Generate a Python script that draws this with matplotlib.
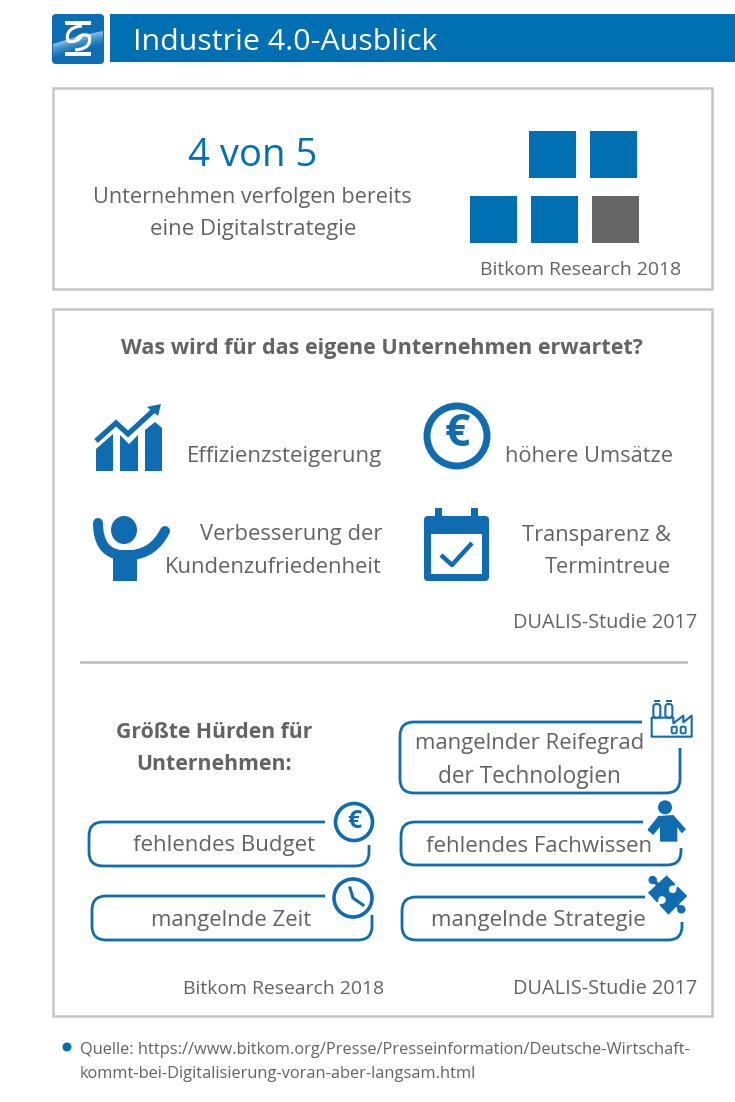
import matplotlib
matplotlib.use("Agg")
import matplotlib.pyplot as plt
from matplotlib.patches import Rectangle, FancyBboxPatch, Circle, Polygon, PathPatch, Ellipse
from matplotlib.path import Path

W, H = 735, 1102
BLUE = "#0170b3"
ICON = "#0f6cb0"
GREY = "#636363"
FRAME = "#c6c6c6"
FONT = "Open Sans"

title = "Industrie 4.0-Ausblick"
headline = "4 von 5"
sub_lines = ["Unternehmen verfolgen bereits", "eine Digitalstrategie"]
square_states = [1, 1, 1, 1, 0]
source_a = "Bitkom Research 2018"
source_b = "DUALIS-Studie 2017"
question = "Was wird für das eigene Unternehmen erwartet?"
hurdles_head = ["Größte Hürden für", "Unternehmen:"]
footer = ["Quelle: https://www.bitkom.org/Presse/Presseinformation/Deutsche-Wirtschaft-",
          "kommt-bei-Digitalisierung-voran-aber-langsam.html"]

fig = plt.figure(figsize=(W / 100, H / 100), dpi=100, facecolor="white")
ax = fig.add_axes([0, 0, 1, 1])
ax.set_xlim(0, W)
ax.set_ylim(H, 0)
ax.axis("off")
rend = fig.canvas.get_renderer()


def fit(s, x0, x1, y, color=GREY, weight="normal"):
    t = ax.text(x0, y - 1, s, family=FONT, color=color, fontweight=weight,
                ha="left", va="center_baseline", fontsize=14, zorder=6)
    w = t.get_window_extent(rend).width
    t.set_fontsize(14 * (x1 - x0) / w)
    return t


def open_box(x0, y0, x1, y1, gapx, gapy, r=14, lw=2.0):
    verts = [(gapx, y0), (x0 + r, y0), (x0, y0), (x0, y0 + r), (x0, y1 - r), (x0, y1), (x0 + r, y1),
             (x1 - r, y1), (x1, y1), (x1, y1 - r), (x1, gapy)]
    codes = [Path.MOVETO, Path.LINETO, Path.CURVE3, Path.CURVE3, Path.LINETO, Path.CURVE3, Path.CURVE3,
             Path.LINETO, Path.CURVE3, Path.CURVE3, Path.LINETO]
    ax.add_patch(PathPatch(Path(verts, codes), fc="none", ec=ICON, lw=lw, capstyle="butt"))


def rrect(x0, y0, x1, y1, r, **kw):
    ax.add_patch(FancyBboxPatch((x0 + r, y0 + r), x1 - x0 - 2 * r, y1 - y0 - 2 * r,
                                boxstyle=f"round,pad={r},rounding_size={r}", **kw))


# header -------------------------------------------------------------
rrect(52, 14, 104, 64, 4, fc="#0d6db2", ec="none")
# lighter sweep across the lower half of the logo, in fading bands
for k, col in enumerate(["#7db6dc", "#5ea4d2", "#3f92c8", "#2a84bf", "#1a78b8"]):
    top_l, top_r = 44 + k * 2.6, 31 + k * 2.6
    ax.add_patch(Polygon([(53, top_l), (78, top_l - 8), (103, top_r), (103, top_r + 5), (78, top_l - 3), (53, top_l + 5)],
                         fc=col, ec="none"))
ax.add_patch(Polygon([(53, 57), (78, 49), (103, 44), (103, 60), (100, 63), (56, 63), (53, 60)], fc="#0d6db2", ec="none"))
ax.add_patch(Rectangle((65, 20.5), 26.5, 4.2, fc="white", ec="none"))
ax.add_patch(Rectangle((65, 51.5), 26.5, 4.2, fc="white", ec="none"))
hook1 = Path([(82, 26), (68, 27), (66, 35), (68, 41), (73, 43), (80, 40), (81, 36)],
             [Path.MOVETO, Path.CURVE4, Path.CURVE4, Path.CURVE4, Path.CURVE4, Path.CURVE4, Path.CURVE4])
hook2 = Path([(75, 50), (89, 49), (91, 42), (89, 36), (84, 33), (77, 36), (76, 41)],
             [Path.MOVETO, Path.CURVE4, Path.CURVE4, Path.CURVE4, Path.CURVE4, Path.CURVE4, Path.CURVE4])
for p in (hook1, hook2):
    ax.add_patch(PathPatch(p, fc="none", ec="white", lw=2.3))
ax.add_patch(Rectangle((110, 14), 625, 48, fc=BLUE, ec="none"))
fit(title, 133, 438, 40, color="white")

# frames ---------------------------------------------------------------
for x0, y0, x1, y1 in [(53, 88, 712, 289), (53, 309, 712, 1016)]:
    ax.add_patch(Rectangle((x0, y0), x1 - x0, y1 - y0, fc="none", ec=FRAME, lw=1.8))

# top panel
fit(headline, 188, 318, 153, color=BLUE)
fit(sub_lines[0], 93, 413, 196)
fit(sub_lines[1], 150, 356, 228)
sq_x = [529, 590, 470, 531, 592]
sq_y = [131, 131, 196, 196, 196]
for x, y, on in zip(sq_x, sq_y, square_states):
    ax.add_patch(Rectangle((x, y), 47, 47, fc=BLUE if on else "#666666", ec="none"))
fit(source_a, 480, 682, 269)

# expectations
fit(question, 121, 646, 347, weight="bold")
fit("Effizienzsteigerung", 187, 383, 455)
fit("höhere Umsätze", 505, 673, 455)
fit("Verbesserung der", 200, 383, 533)
fit("Kundenzufriedenheit", 165, 383, 566)
fit("Transparenz &", 522, 671, 534)
fit("Termintreue", 545, 671, 566)
fit(source_b, 513, 697, 621)

# chart icon
for pts in ([(96, 449), (113, 434), (113, 471), (96, 471)],
            [(120, 435), (129, 444), (138, 435), (138, 471), (120, 471)],
            [(145, 430), (155, 422), (162, 428), (162, 471), (145, 471)]):
    ax.add_patch(Polygon(pts, fc=ICON, ec="none"))
ax.plot([96, 116, 128, 153], [441, 423, 434, 411], color=ICON, lw=3.8, solid_joinstyle="miter", solid_capstyle="butt")
ax.add_patch(Polygon([(161, 404), (147, 407), (158, 416)], fc=ICON, ec="none"))

# big euro
ax.add_patch(Circle((457, 436), 30, fc="none", ec=ICON, lw=5))
ax.text(457, 435, "€", family=FONT, fontweight="bold", color=ICON, fontsize=32, ha="center", va="center")

# person cheering
ax.add_patch(Ellipse((124, 530), 26, 28, fc=ICON, ec="none"))
ax.add_patch(Rectangle((113, 553), 24, 28, fc=ICON, ec="none"))
arm = Path([(98, 523), (98, 552), (120, 555), (132, 555), (154, 553), (165, 531)],
           [Path.MOVETO, Path.CURVE3, Path.CURVE3, Path.LINETO, Path.CURVE3, Path.CURVE3])
ax.add_patch(PathPatch(arm, fc="none", ec=ICON, lw=7.2, capstyle="round"))

# calendar
rrect(424, 516, 489, 581, 4, fc=ICON, ec="none")
ax.add_patch(Rectangle((431, 534), 51, 40, fc="white", ec="none"))
for x in (435, 471):
    ax.add_patch(Rectangle((x, 508), 7, 10, fc=ICON, ec="none"))
ax.plot([441, 452, 472], [555, 565, 543], color=ICON, lw=3.2, solid_capstyle="butt")

# divider
ax.plot([81, 686], [662, 662], color="#bdbdbd", lw=1.9)

# hurdles
fit(hurdles_head[0], 116, 313, 731, weight="bold")
fit(hurdles_head[1], 136, 292, 763, weight="bold")
open_box(400, 722, 680, 793, 642, 748)
open_box(401, 822, 681, 865, 643, 848)
open_box(402, 897, 682, 940, 645, 922)
open_box(89, 822, 369, 866, 325, 845)
open_box(92, 896, 372, 940, 325, 915)
fit("mangelnder Reifegrad", 415, 645, 742)
fit("der Technologien", 438, 622, 775)
fit("fehlendes Fachwissen", 426, 654, 845)
fit("mangelnde Strategie", 431, 646, 919)
fit("fehlendes Budget", 133, 316, 844)
fit("mangelnde Zeit", 151, 312, 919)
fit(source_a, 183, 385, 988)
fit(source_b, 513, 697, 988)

# small euro
ax.add_patch(Circle((354, 822), 18.5, fc="white", ec=ICON, lw=2.6))
ax.text(354, 821, "€", family=FONT, fontweight="bold", color=ICON, fontsize=18, ha="center", va="center")
# clock
ax.add_patch(Circle((353, 898), 19, fc="white", ec=ICON, lw=2.6))
ax.plot([350, 353, 363], [888, 898, 905], color=ICON, lw=2.2)


def z3(pts):
    return [(390 + x / 3, 690 + y / 3) for x, y in pts]


def zf(pts):
    return [(640 + x / 3, 695 + y / 3) for x, y in pts]


def zp(pts):
    return [(640 + x / 3, 870 + y / 3) for x, y in pts]


# factory
ax.add_patch(Polygon(zf([(35, 125), (35, 68), (100, 68), (100, 85), (130, 62), (130, 82), (155, 62), (155, 125)]),
                     fc="white", ec=ICON, lw=1.5, joinstyle="round"))
for x in (40, 76):
    rrect(640 + x / 3, 695 + 27 / 3, 640 + x / 3 + 7, 695 + 68 / 3, 3, fc="white", ec=ICON, lw=1.5)
    ax.add_patch(Rectangle((640 + x / 3 + 0.8, 695 + 14 / 3), 5.5, 2.4, fc=ICON, ec="none"))
for x in (95, 122):
    rrect(640 + x / 3, 695 + 95 / 3, 640 + x / 3 + 5, 695 + 115 / 3, 1.5, fc="white", ec=ICON, lw=1.4)

# small person
ax.add_patch(Circle(z3([(825, 352)])[0], 7, fc=ICON, ec="none"))
ax.add_patch(Polygon(z3([(805, 378), (850, 375), (888, 418), (875, 430), (862, 412), (862, 455), (810, 455),
                         (810, 410), (790, 435), (772, 420)]), fc=ICON, ec="none"))

# puzzle
ax.add_patch(Polygon(zp([(24, 68), (80, 16), (142, 78), (85, 134)]), fc=ICON, ec="none"))
for tail, c in [((58, 48), (38, 30)), ((108, 102), (124, 118))]:
    p0, p1 = zp([tail, c])
    ax.plot([p0[0], p1[0]], [p0[1], p1[1]], color=ICON, lw=2.6)
    ax.add_patch(Circle(p1, 4.2, fc=ICON, ec="none"))
for mouth, c in [((112, 44), (98, 58)), ((52, 104), (66, 90))]:
    p0, p1 = zp([mouth, c])
    ax.plot([p0[0], p1[0]], [p0[1], p1[1]], color="white", lw=2.4)
    ax.add_patch(Circle(p1, 3.8, fc="white", ec="none"))

# footer
ax.add_patch(Circle((67, 1047), 4.5, fc=BLUE, ec="none"))
fit(footer[0], 80, 691, 1049)
fit(footer[1], 80, 478, 1073)

fig.savefig("out.png", dpi=100, facecolor="white")
